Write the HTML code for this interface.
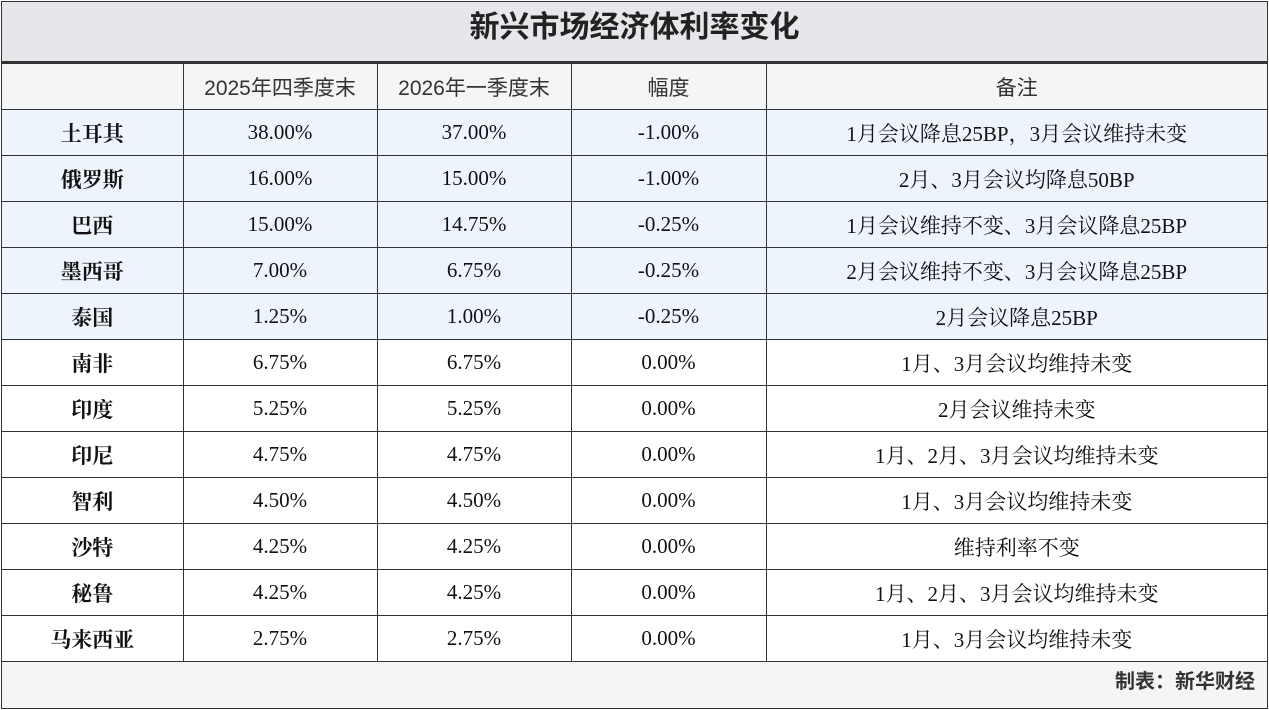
<!DOCTYPE html>
<html><head><meta charset="utf-8"><style>
html,body{margin:0;padding:0;background:#fff;}
body{width:1269px;height:710px;overflow:hidden;position:relative;}
.wrap{position:absolute;left:1px;top:1px;width:1265px;height:706px;border:1px solid #333;background:#f4f5f7;}
.title{position:absolute;left:0;top:0;width:1265px;height:59px;background:#e6e7ea;border-bottom:2px solid #333;text-align:center;line-height:59px;font:bold 30px "Liberation Sans","Noto Sans CJK SC",sans-serif;color:#222;}
table{position:absolute;left:0;top:61px;border-collapse:collapse;table-layout:fixed;width:1265px;background:#fff;}
td{border:1px solid #333;text-align:center;padding:0;height:45px;font:21px "Liberation Serif","Noto Serif CJK SC",serif;color:#111;}
tr.h td{height:45px;background:#f4f5f7;font:21px "Liberation Sans","Noto Sans CJK SC",sans-serif;color:#333;}
tr.b td{background:#eef4fc;}
td.n{font-weight:bold;font-size:21px;}
tr td:first-child{border-left:none;}
tr td:last-child{border-right:none;}
.foot{position:absolute;left:0;top:663px;width:1265px;height:43px;text-align:right;line-height:46px;font:bold 20px "Liberation Sans","Noto Sans CJK SC",sans-serif;color:#333;}
.foot span{margin-right:12px;}
</style></head><body>
<div class="wrap">
<div class="title">新兴市场经济体利率变化</div>
<table>
<colgroup><col style="width:181px"><col style="width:194px"><col style="width:194px"><col style="width:195px"><col></colgroup>
<tr class="h"><td></td><td>2025年四季度末</td><td>2026年一季度末</td><td>幅度</td><td>备注</td></tr>
<tr class="b"><td class="n">土耳其</td><td>38.00%</td><td>37.00%</td><td>-1.00%</td><td>1月会议降息25BP，3月会议维持未变</td></tr>
<tr class="b"><td class="n">俄罗斯</td><td>16.00%</td><td>15.00%</td><td>-1.00%</td><td>2月、3月会议均降息50BP</td></tr>
<tr class="b"><td class="n">巴西</td><td>15.00%</td><td>14.75%</td><td>-0.25%</td><td>1月会议维持不变、3月会议降息25BP</td></tr>
<tr class="b"><td class="n">墨西哥</td><td>7.00%</td><td>6.75%</td><td>-0.25%</td><td>2月会议维持不变、3月会议降息25BP</td></tr>
<tr class="b"><td class="n">泰国</td><td>1.25%</td><td>1.00%</td><td>-0.25%</td><td>2月会议降息25BP</td></tr>
<tr><td class="n">南非</td><td>6.75%</td><td>6.75%</td><td>0.00%</td><td>1月、3月会议均维持未变</td></tr>
<tr><td class="n">印度</td><td>5.25%</td><td>5.25%</td><td>0.00%</td><td>2月会议维持未变</td></tr>
<tr><td class="n">印尼</td><td>4.75%</td><td>4.75%</td><td>0.00%</td><td>1月、2月、3月会议均维持未变</td></tr>
<tr><td class="n">智利</td><td>4.50%</td><td>4.50%</td><td>0.00%</td><td>1月、3月会议均维持未变</td></tr>
<tr><td class="n">沙特</td><td>4.25%</td><td>4.25%</td><td>0.00%</td><td>维持利率不变</td></tr>
<tr><td class="n">秘鲁</td><td>4.25%</td><td>4.25%</td><td>0.00%</td><td>1月、2月、3月会议均维持未变</td></tr>
<tr><td class="n">马来西亚</td><td>2.75%</td><td>2.75%</td><td>0.00%</td><td>1月、3月会议均维持未变</td></tr>
</table>
<div class="foot"><span>制表：新华财经</span></div>
</div>
</body></html>
